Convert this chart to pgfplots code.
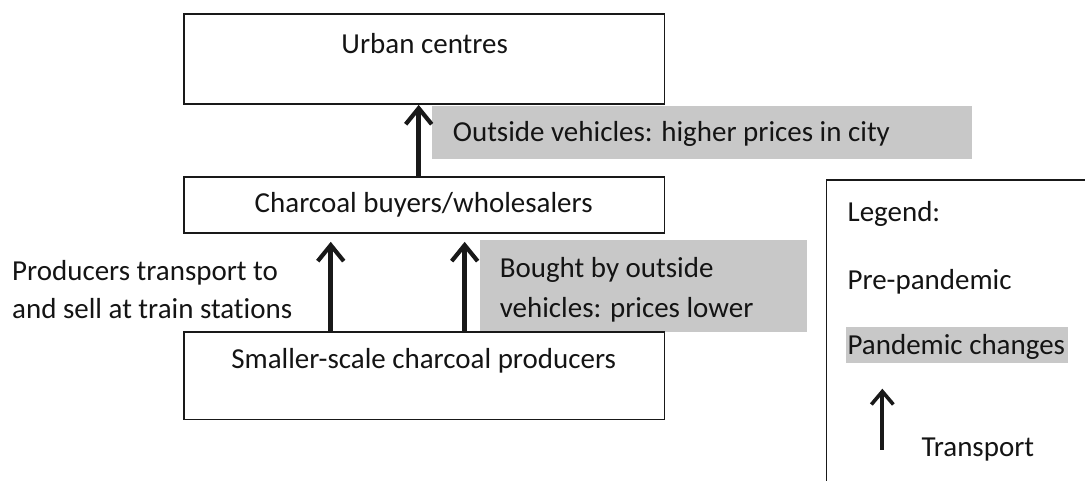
\documentclass[border=0pt]{standalone}
\usepackage{pgfplots}
\pgfplotsset{compat=1.18}
\usepackage{fontspec}
\setmainfont[Ligatures=NoCommon]{Carlito}
\usetikzlibrary{arrows.meta}
\definecolor{pgray}{RGB}{200,200,200}
\definecolor{edge}{RGB}{25,25,25}
\begin{document}
\begin{tikzpicture}
\begin{axis}[width=1086pt,height=481pt,scale only axis,
  xmin=0,xmax=1086,ymin=0,ymax=481,y dir=reverse,hide axis,clip=false]
\path (axis cs:0,0) rectangle (axis cs:1086,481);
\tikzset{txt/.style={font=\fontsize{29}{35}\selectfont,inner sep=0pt,text=black!92}}
% gray pandemic-change boxes
\fill[pgray] (axis cs:432,106) rectangle (axis cs:973,159);
\fill[pgray] (axis cs:480,240) rectangle (axis cs:808,332);
\fill[pgray] (axis cs:847,327) rectangle (axis cs:1069,363);
% boxes
\draw[edge,line width=1.6pt] (axis cs:184,14) rectangle (axis cs:665,104);
\draw[edge,line width=1.6pt] (axis cs:184,177) rectangle (axis cs:665,233);
\draw[edge,line width=1.6pt] (axis cs:184,332) rectangle (axis cs:665,420);
\draw[edge,line width=1.6pt] (axis cs:827,481) -- (axis cs:827,180) -- (axis cs:1086,180);
% darker joints on the box borders
\draw[edge,line width=2.4pt] (axis cs:299,233) -- (axis cs:362,233);
\draw[edge,line width=2.4pt] (axis cs:433,233) -- (axis cs:497,233);
\draw[edge,line width=2.4pt] (axis cs:299,332) -- (axis cs:362,332);
\draw[edge,line width=2.4pt] (axis cs:433,332) -- (axis cs:497,332);
\draw[edge,line width=2.4pt] (axis cs:387,177) -- (axis cs:451,177);
% arrows (transport)
\addplot[edge,line width=5pt,-{Straight Barb[length=16pt,width=26pt,line width=4.2pt]}] coordinates {(419,177) (419,105)};
\addplot[edge,line width=5pt,-{Straight Barb[length=16pt,width=26pt,line width=4.2pt]}] coordinates {(331,332) (331,242)};
\addplot[edge,line width=5pt,-{Straight Barb[length=16pt,width=26pt,line width=4.2pt]}] coordinates {(465,332) (465,242)};
\addplot[edge,line width=4pt,-{Straight Barb[length=13pt,width=22pt,line width=3.6pt]}] coordinates {(883,450) (883,389)};
% texts
\node[txt,anchor=base] at (axis cs:425,54) {Urban centres};
\node[txt,anchor=base west] at (axis cs:453,142) {Outside vehicles: higher prices in city};
\node[txt,anchor=base] at (axis cs:424,213) {Charcoal buyers/wholesalers};
\node[txt,anchor=base west] at (axis cs:12,281) {Producers transport to};
\node[txt,anchor=base west] at (axis cs:12,319) {and sell at train stations};
\node[txt,anchor=base west] at (axis cs:500,278) {Bought by outside};
\node[txt,anchor=base west] at (axis cs:500,318) {vehicles: prices lower};
\node[txt,anchor=base] at (axis cs:424,369) {Smaller-scale charcoal producers};
\node[txt,anchor=base west] at (axis cs:848,222) {Legend:};
\node[txt,anchor=base west] at (axis cs:848,290) {Pre-pandemic};
\node[txt,anchor=base west] at (axis cs:848,355) {Pandemic changes};
\node[txt,anchor=base west] at (axis cs:922,457) {Transport};
\end{axis}
\end{tikzpicture}
\end{document}
